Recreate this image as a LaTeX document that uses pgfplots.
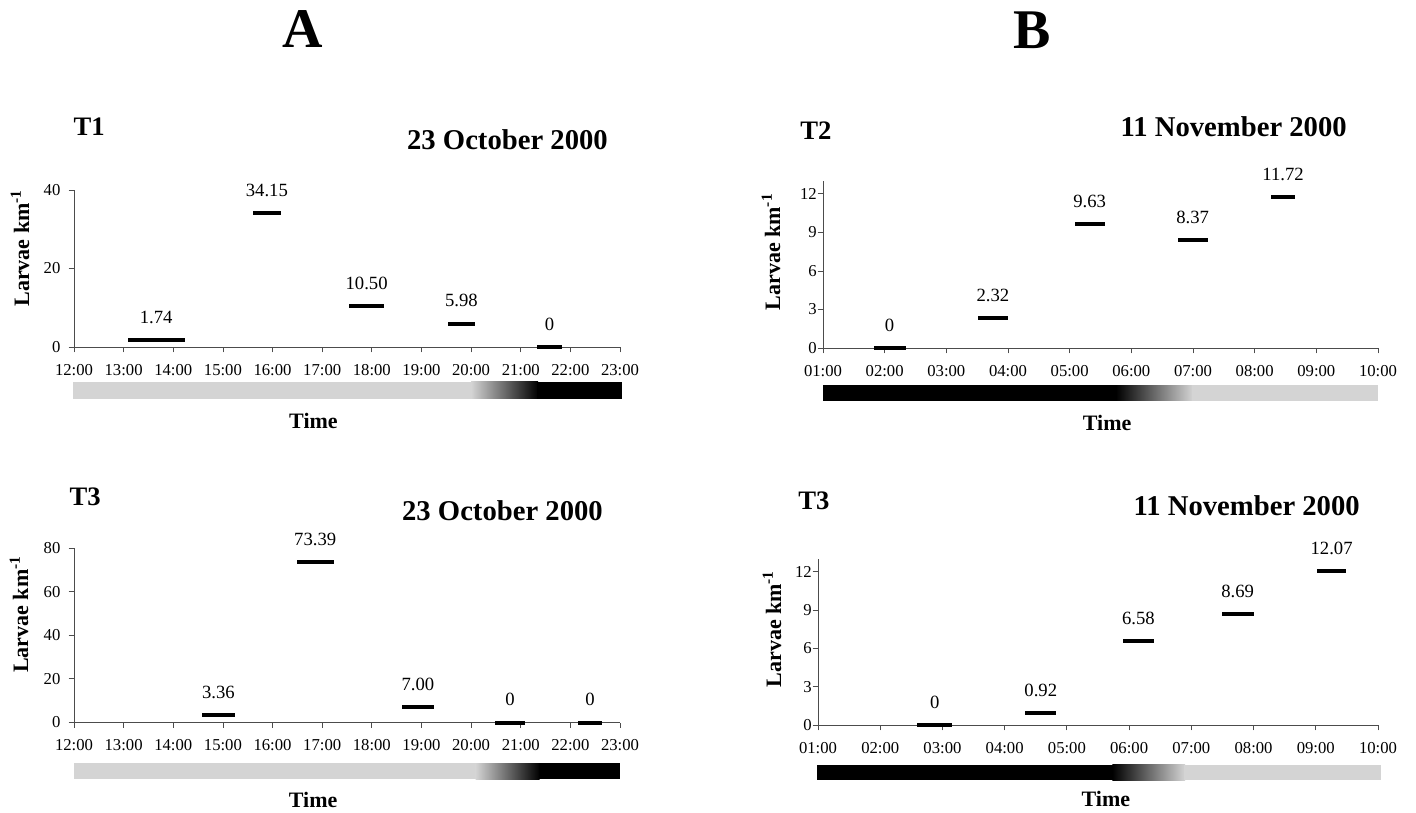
\documentclass[border=0pt]{standalone}
\usepackage{fontspec}
\setmainfont{Liberation Serif}
\usepackage{pgfplots}
\usepackage{pgfplotstable}
\pgfplotsset{compat=1.18}

\definecolor{daygray}{gray}{0.83}

% one table per panel: bar centre (h from axis start), half width, value, label
\pgfplotstableread{
xc     hw     y      lab
1.655  0.575  1.74   1.74
3.885  0.285  34.15  34.15
5.895  0.345  10.50  10.50
7.805  0.265  5.98   5.98
9.580  0.260  0      0
}\TOne
\pgfplotstableread{
xc     hw     y      lab
2.910  0.330  3.36   3.36
4.860  0.370  73.39  73.39
6.930  0.330  7.00   7.00
8.785  0.295  0      0
10.395 0.245  0      0
}\TThreeA
\pgfplotstableread{
xc     hw     y      lab
1.080  0.260  0      0
2.755  0.245  2.32   2.32
4.325  0.245  9.63   9.63
5.995  0.245  8.37   8.37
7.460  0.200  11.72  11.72
}\TTwo
\pgfplotstableread{
xc     hw     y      lab
1.875  0.285  0      0
3.580  0.250  0.92   0.92
5.150  0.250  6.58   6.58
6.745  0.255  8.69   8.69
8.255  0.235  12.07  12.07
}\TThreeB

\pgfplotsset{
  larvae/.style={
    scale only axis,
    axis x line*=bottom, axis y line*=left,
    tick align=outside,
    major tick length=4pt,
    axis line style={line width=0.6pt, black!70},
    tick style={line width=0.6pt, black!70},
    clip=false,
    ymin=0,
    /pgf/number format/assume math mode=true,
    ticklabel style={font=\fontsize{12.5}{12.5}\selectfont, inner sep=0pt},
    xticklabel style={anchor=center, yshift=-13pt},
    label style={font=\fontsize{16.5}{16.5}\selectfont\bfseries, inner sep=0pt},
    xlabel={Time},
    ylabel={Larvae km\textsuperscript{-1}},
  },
  segs/.style={
    only marks, mark=none,
    nodes near coords,
    point meta=explicit symbolic,
    every node near coord/.style={font=\fontsize{14}{14}\selectfont, anchor=base, yshift=12.5pt, inner sep=0pt},
    error bars/.cd, x dir=both, x explicit, error mark=none,
    error bar style={line width=3pt, black},
  },
}

\begin{document}
\begin{tikzpicture}
\useasboundingbox (0,0) rectangle (1062pt,-609.75pt);

\node[font=\fontsize{42}{42}\selectfont\bfseries, inner sep=0pt] at (227.25pt,-21.75pt) {A};
\node[font=\fontsize{42}{42}\selectfont\bfseries, inner sep=0pt] at (774pt,-22.5pt) {B};

\node[font=\fontsize{20}{20}\selectfont\bfseries, inner sep=0pt, anchor=base west] at (55pt,-102pt) {T1};
\node[font=\fontsize{21.5}{21.5}\selectfont\bfseries, inner sep=0pt, anchor=base east] at (456pt,-112.5pt) {23 October 2000};
\node[font=\fontsize{20}{20}\selectfont\bfseries, inner sep=0pt, anchor=base west] at (52pt,-379pt) {T3};
\node[font=\fontsize{21.5}{21.5}\selectfont\bfseries, inner sep=0pt, anchor=base east] at (452.25pt,-390pt) {23 October 2000};
\node[font=\fontsize{20}{20}\selectfont\bfseries, inner sep=0pt, anchor=base west] at (600pt,-105pt) {T2};
\node[font=\fontsize{21.5}{21.5}\selectfont\bfseries, inner sep=0pt, anchor=base east] at (1010.25pt,-102.75pt) {11 November 2000};
\node[font=\fontsize{20}{20}\selectfont\bfseries, inner sep=0pt, anchor=base west] at (598.5pt,-381.75pt) {T3};
\node[font=\fontsize{21.5}{21.5}\selectfont\bfseries, inner sep=0pt, anchor=base east] at (1020pt,-386.25pt) {11 November 2000};

% A, T1
\begin{axis}[larvae,
    at={(55.5pt,-260.25pt)}, anchor=south west,
    width=409.5pt, height=117.75pt,
    xmin=0, xmax=11, ymax=40,
    xtick={0,...,11},
    xticklabels={12:00,13:00,14:00,15:00,16:00,17:00,18:00,19:00,20:00,21:00,22:00,23:00},
    ytick={0,20,40},
    yticklabel style={anchor=east, xshift=-6pt},
    xlabel style={at={(axis description cs:0.4386,-0.471)}, anchor=center},
    ylabel style={at={(axis description cs:-0.0989,0.63)}, anchor=center}]
  \addplot[draw=none, fill=daygray, forget plot] coordinates {(-0.02,-8.9) (8.02,-8.9) (8.02,-13.2) (-0.02,-13.2)} -- cycle;
  \addplot[draw=none, left color=daygray, right color=black, forget plot] coordinates {(8.0,-8.9) (9.35,-8.9) (9.35,-13.2) (8.0,-13.2)} -- cycle;
  \addplot[draw=none, fill=black, forget plot] coordinates {(9.33,-8.9) (11.05,-8.9) (11.05,-13.2) (9.33,-13.2)} -- cycle;
  \addplot[segs] table[x=xc, y=y, x error=hw, meta=lab] {\TOne};
\end{axis}

% A, T3
\begin{axis}[larvae,
    at={(55.5pt,-541.875pt)}, anchor=south west,
    width=409.5pt, height=130.875pt,
    xmin=0, xmax=11, ymax=80,
    xtick={0,...,11},
    xticklabels={12:00,13:00,14:00,15:00,16:00,17:00,18:00,19:00,20:00,21:00,22:00,23:00},
    ytick={0,20,...,80},
    yticklabel style={anchor=east, xshift=-6pt},
    xlabel style={at={(axis description cs:0.438,-0.444)}, anchor=center},
    ylabel style={at={(axis description cs:-0.1007,0.62)}, anchor=center}]
  \addplot[draw=none, fill=daygray, forget plot] coordinates {(0,-18.6) (8.11,-18.6) (8.11,-25.9) (0,-25.9)} -- cycle;
  \addplot[draw=none, left color=daygray, right color=black, forget plot] coordinates {(8.09,-18.6) (9.38,-18.6) (9.38,-25.9) (8.09,-25.9)} -- cycle;
  \addplot[draw=none, fill=black, forget plot] coordinates {(9.36,-18.6) (11.0,-18.6) (11.0,-25.9) (9.36,-25.9)} -- cycle;
  \addplot[segs] table[x=xc, y=y, x error=hw, meta=lab] {\TThreeA};
\end{axis}

% B, T2
\begin{axis}[larvae,
    at={(617.25pt,-261pt)}, anchor=south west,
    width=416.25pt, height=125.25pt,
    xmin=0, xmax=9, ymax=13,
    xtick={0,...,9},
    xticklabels={01:00,02:00,03:00,04:00,05:00,06:00,07:00,08:00,09:00,10:00},
    ytick={0,3,...,12},
    yticklabel style={anchor=east, xshift=-0.5pt},
    xlabel style={at={(axis description cs:0.512,-0.446)}, anchor=center},
    ylabel style={at={(axis description cs:-0.0937,0.575)}, anchor=center}]
  \addplot[draw=none, fill=black, forget plot] coordinates {(0,-2.88) (4.77,-2.88) (4.77,-4.12) (0,-4.12)} -- cycle;
  \addplot[draw=none, left color=black, right color=daygray, forget plot] coordinates {(4.75,-2.88) (6.0,-2.88) (6.0,-4.12) (4.75,-4.12)} -- cycle;
  \addplot[draw=none, fill=daygray, forget plot] coordinates {(5.98,-2.88) (9.0,-2.88) (9.0,-4.12) (5.98,-4.12)} -- cycle;
  \addplot[segs] table[x=xc, y=y, x error=hw, meta=lab] {\TTwo};
\end{axis}

% B, T3
\begin{axis}[larvae,
    at={(613.5pt,-543.75pt)}, anchor=south west,
    width=420pt, height=124.5pt,
    xmin=0, xmax=9, ymax=13,
    xtick={0,...,9},
    xticklabels={01:00,02:00,03:00,04:00,05:00,06:00,07:00,08:00,09:00,10:00},
    ytick={0,3,...,12},
    yticklabel style={anchor=east, xshift=-0.5pt},
    xlabel style={at={(axis description cs:0.514,-0.446)}, anchor=center},
    ylabel style={at={(axis description cs:-0.0821,0.578)}, anchor=center}]
  \addplot[draw=none, fill=black, forget plot] coordinates {(-0.01,-3.13) (4.75,-3.13) (4.75,-4.31) (-0.01,-4.31)} -- cycle;
  \addplot[draw=none, left color=black, right color=daygray, forget plot] coordinates {(4.73,-3.13) (5.9,-3.13) (5.9,-4.31) (4.73,-4.31)} -- cycle;
  \addplot[draw=none, fill=daygray, forget plot] coordinates {(5.88,-3.13) (9.05,-3.13) (9.05,-4.31) (5.88,-4.31)} -- cycle;
  \addplot[segs] table[x=xc, y=y, x error=hw, meta=lab] {\TThreeB};
\end{axis}
\end{tikzpicture}
\end{document}
